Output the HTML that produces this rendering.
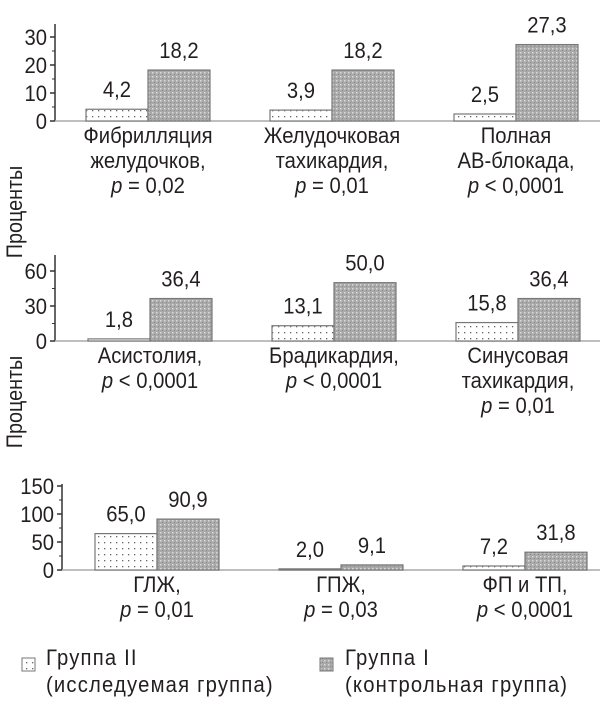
<!DOCTYPE html>
<html><head><meta charset="utf-8"><style>
body{margin:0;background:#fff}
svg{display:block;font-family:"Liberation Sans Narrow","Liberation Sans",sans-serif;fill:#231f20}
text{font-size:22px}
.lg{letter-spacing:1.3px}
</style></head><body>
<svg width="611" height="706" viewBox="0 0 611 706">
<defs>
<pattern id="pII" width="6" height="6" patternUnits="userSpaceOnUse"><rect width="6" height="6" fill="#fff"/><rect x="2" y="2" width="1.3" height="1.3" fill="#666"/></pattern>
<pattern id="pI" width="4" height="4" patternUnits="userSpaceOnUse"><rect width="4" height="4" fill="#a9a9a9"/><rect x="0" y="0" width="1.5" height="1.5" fill="#d8d8d8"/><rect x="2" y="2" width="1" height="1" fill="#888"/></pattern>
</defs>
<g id="root"></g>
<text transform="translate(22,212) rotate(-90) scale(0.9,1)" text-anchor="middle">Проценты</text>
<text transform="translate(22,402) rotate(-90) scale(0.9,1)" text-anchor="middle">Проценты</text>
<rect x="22" y="658" width="13" height="13" fill="url(#pII)" stroke="#777"/>
<text class="lg" transform="translate(46,665) scale(0.92,1)">Группа II</text>
<text class="lg" transform="translate(46,692) scale(0.92,1)">(исследуемая группа)</text>
<rect x="320" y="658" width="13" height="13" fill="url(#pI)" stroke="#777"/>
<text class="lg" transform="translate(345,665) scale(0.92,1)">Группа I</text>
<text class="lg" transform="translate(345,692) scale(0.92,1)">(контрольная группа)</text>
</svg>
<script>
const panel1Cats=[["Фибрилляция","желудочков,","p = 0,02"],["Желудочковая","тахикардия,","p = 0,01"],["Полная","АВ-блокада,","p < 0,0001"]];
const panel1GroupII=[4.2,3.9,2.5];
const panel1GroupI=[18.2,18.2,27.3];
const panel1Ticks=[0,10,20,30];
const panel2Cats=[["Асистолия,","p < 0,0001"],["Брадикардия,","p < 0,0001"],["Синусовая","тахикардия,","p = 0,01"]];
const panel2GroupII=[1.8,13.1,15.8];
const panel2GroupI=[36.4,50.0,36.4];
const panel2Ticks=[0,30,60];
const panel3Cats=[["ГЛЖ,","p = 0,01"],["ГПЖ,","p = 0,03"],["ФП и ТП,","p < 0,0001"]];
const panel3GroupII=[65.0,2.0,7.2];
const panel3GroupI=[90.9,9.1,31.8];
const panel3Ticks=[0,50,100,150];

const NS="http://www.w3.org/2000/svg";
const root=document.getElementById('root');
const SX=0.92;
function mk(tag,attrs,txt){const e=document.createElementNS(NS,tag);for(const k in attrs)e.setAttribute(k,attrs[k]);if(txt!==undefined)e.textContent=txt;root.appendChild(e);return e;}
function tx(x,y,anchor,txt){return mk('text',{transform:`translate(${x},${y}) scale(${SX},1)`,'text-anchor':anchor},txt);}
function fmt(v){return v.toFixed(1).replace('.',',');}
function panel(id,cats,g2,g1,ticks,axisX,y0,ymax,yTop,x0){
  const k=(y0-yTop)/ticks[ticks.length-1];
  const y=v=>y0-v*k;
  const a=mk('line',{x1:axisX,x2:axisX,y1:ymax,y2:y0,stroke:'#333','stroke-width':1.5});
  
  const b=mk('line',{x1:axisX,x2:600,y1:y0,y2:y0,stroke:'#aaa','stroke-width':1.5});
  
  ticks.forEach((t,i)=>{
    mk('line',{x1:axisX-5,x2:axisX,y1:y(t),y2:y(t),stroke:'#333','stroke-width':1.5});
    const tl=tx(axisX-8,y(t)+8,'end',t);
    
    if(i<ticks.length-1){const m=(t+ticks[i+1])/2;mk('line',{x1:axisX-3,x2:axisX,y1:y(m),y2:y(m),stroke:'#333','stroke-width':1});}
  });
  const w=62,gap=184;
  cats.forEach((c,i)=>{
    const cx=x0+i*gap;
    const r2=mk('rect',{x:cx-w,y:y(g2[i]),width:w,height:y0-y(g2[i]),fill:'url(#pII)',stroke:'#777','stroke-width':1.2});
    
    const r1=mk('rect',{x:cx,y:y(g1[i]),width:w,height:y0-y(g1[i]),fill:'url(#pI)',stroke:'#777','stroke-width':1.2});
    
    const v2=tx(cx-w/2,y(g2[i])-12,'middle',fmt(g2[i]));
    
    const v1=tx(cx+w/2,y(g1[i])-12,'middle',fmt(g1[i]));
    
    c.forEach((line,j)=>{
      const t=tx(cx,y0+22+j*25,'middle');
      
      if(line.startsWith('p ')){const ts=document.createElementNS(NS,'tspan');ts.setAttribute('font-style','italic');ts.textContent='p';t.appendChild(ts);t.appendChild(document.createTextNode(line.slice(1)));}
      else t.textContent=line;
    });
  });
}
panel('panel1',panel1Cats,panel1GroupII,panel1GroupI,panel1Ticks,55,121,24,37,148);
panel('panel2',panel2Cats,panel2GroupII,panel2GroupI,panel2Ticks,55,341,255,271,150);
panel('panel3',panel3Cats,panel3GroupII,panel3GroupI,panel3Ticks,62,570,484,486,157);
</script>
</body></html>
